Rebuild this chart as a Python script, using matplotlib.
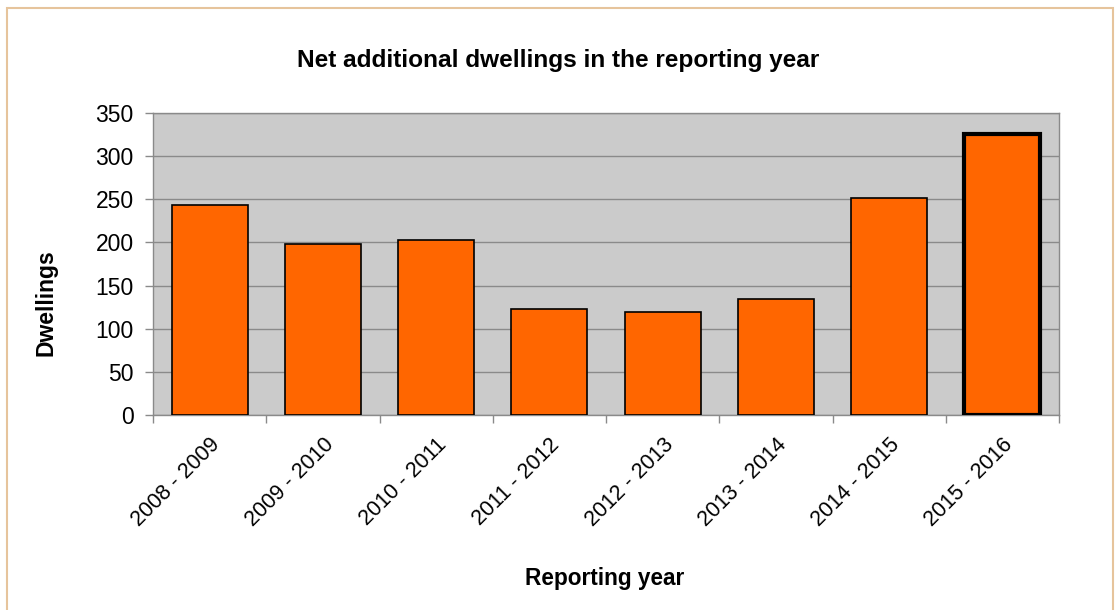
import matplotlib
matplotlib.use("Agg")
import matplotlib.pyplot as plt
from matplotlib.patches import Rectangle

categories = ["2008 - 2009", "2009 - 2010", "2010 - 2011", "2011 - 2012",
              "2012 - 2013", "2013 - 2014", "2014 - 2015", "2015 - 2016"]
values = [243, 198, 203, 123, 119, 135, 252, 326]
yticks = [0, 50, 100, 150, 200, 250, 300, 350]

plt.rcParams['font.family'] = ['Liberation Sans', 'DejaVu Sans']

fig = plt.figure(figsize=(11.17, 6.10), dpi=100)
fig.patch.set_facecolor('white')
# outer border
fig.add_artist(Rectangle((7/1117, -0.01), (1113-7)/1117, 1 - 8/610 + 0.01,
                         transform=fig.transFigure, fill=False,
                         edgecolor='#E6C49C', linewidth=1.5))

ax = fig.add_axes([153/1117, 1 - 415/610, (1059-153)/1117, (415-113)/610])
ax.set_facecolor('#CBCBCB')
x = list(range(len(categories)))
bars = ax.bar(x, values, width=0.67, color='#FF6600', edgecolor='black', linewidth=1.2, zorder=3)
bars[-1].set_linewidth(3)

ax.set_xlim(-0.5, len(categories) - 0.5)
ax.set_ylim(0, 350)
ax.set_yticks(yticks)
ax.set_yticklabels([str(v) for v in yticks], fontsize=16.5)
ax.yaxis.grid(True, color='#8A8A8A', linewidth=1, zorder=1)
ax.set_axisbelow(True)

ax.set_xticks([i + 0.5 for i in range(-1, len(categories))], minor=False)
ax.set_xticklabels([])
ax.tick_params(axis='x', which='major', length=6, color='#8A8A8A', width=1)
ax.set_xticks(x, minor=True)
ax.set_xticklabels(categories, minor=True, rotation=45, ha='right',
                   rotation_mode='anchor', fontsize=15.5)
ax.tick_params(axis='x', which='minor', length=0, pad=14)
ax.tick_params(axis='y', length=6, color='#8A8A8A', width=1, pad=8)

for s in ax.spines.values():
    s.set_color('#8A8A8A')
    s.set_linewidth(1)

fig.text(558/1117, 1 - 61/610, "Net additional dwellings in the reporting year",
         ha='center', va='center', fontsize=17.6, fontweight='bold')
fig.text(605/1117, 1 - 578/610, "Reporting year", ha='center', va='center',
         fontsize=16.3, fontweight='bold')
fig.text(46/1117, 1 - 303/610, "Dwellings", ha='center', va='center',
         rotation=90, fontsize=16.5, fontweight='bold')

fig.savefig("out.png", dpi=100)
